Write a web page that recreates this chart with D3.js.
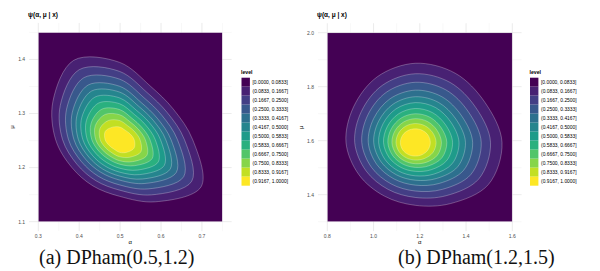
<!DOCTYPE html>
<html>
<head>
<meta charset="utf-8">
<script src="https://cdn.jsdelivr.net/npm/d3@7"></script>
<style>
  body { margin: 0; background: #fff; }
  svg { display: block; }
  text { font-family: "Liberation Sans", Arial, sans-serif; }
  text.caption { font-family: "Liberation Serif", "Times New Roman", serif; }
</style>
</head>
<body>
<script>
'use strict';

// legend bins of the normalised density
const levelLabels = [
    "[0.0000, 0.0833]", "(0.0833, 0.1667]", "(0.1667, 0.2500]", "(0.2500, 0.3333]",
    "(0.3333, 0.4167]", "(0.4167, 0.5000]", "(0.5000, 0.5833]", "(0.5833, 0.6667]",
    "(0.6667, 0.7500]", "(0.7500, 0.8333]", "(0.8333, 0.9167]", "(0.9167, 1.0000]"
]

const xDomainA = [0.3, 0.75]
const yDomainA = [1.1, 1.45]
const xTicksA = [0.3, 0.4, 0.5, 0.6, 0.7]
const xMinorA = [0.35, 0.45, 0.55, 0.65, 0.75]
const yTicksA = [1.1, 1.2, 1.3, 1.4]
const yMinorA = [1.15, 1.25, 1.35, 1.45]

const xDomainB = [0.8, 1.6]
const yDomainB = [1.3, 2.0]
const xTicksB = [0.8, 1.0, 1.2, 1.4, 1.6]
const xMinorB = [0.9, 1.1, 1.3, 1.5]
const yTicksB = [1.4, 1.6, 1.8, 2.0]
const yMinorB = [1.3, 1.5, 1.7, 1.9]

const captions = ["(a) DPham(0.5,1.2)", "(b) DPham(1.2,1.5)"]

// contour boundaries (alpha, mu), outermost level first
const ringsA = [
    [[0.6774,1.2516],[0.6295,1.3086],[0.5743,1.3504],[0.4989,1.3945],[0.3868,1.3985],[0.3358,1.3227],[0.3424,1.2516],[0.3817,1.2005],[0.4337,1.1662],[0.4989,1.1469],[0.5865,1.1368],[0.6980,1.1647]],
    [[0.6573,1.2516],[0.6148,1.3021],[0.5656,1.3390],[0.4989,1.3778],[0.4000,1.3811],[0.3537,1.3150],[0.3594,1.2516],[0.3946,1.2061],[0.4410,1.1757],[0.4989,1.1583],[0.5767,1.1496],[0.6750,1.1748]],
    [[0.6402,1.2516],[0.6021,1.2966],[0.5582,1.3293],[0.4989,1.3635],[0.4114,1.3663],[0.3691,1.3082],[0.3739,1.2516],[0.4056,1.2109],[0.4471,1.1838],[0.4989,1.1680],[0.5683,1.1606],[0.6554,1.1833]],
    [[0.6245,1.2516],[0.5905,1.2915],[0.5514,1.3204],[0.4989,1.3503],[0.4218,1.3527],[0.3831,1.3021],[0.3872,1.2516],[0.4157,1.2153],[0.4529,1.1913],[0.4989,1.1769],[0.5606,1.1707],[0.6374,1.1912]],
    [[0.6116,1.2516],[0.5810,1.2874],[0.5458,1.3131],[0.4989,1.3396],[0.4302,1.3416],[0.3946,1.2971],[0.3981,1.2516],[0.4241,1.2190],[0.4575,1.1973],[0.4989,1.1843],[0.5544,1.1789],[0.6227,1.1976]],
    [[0.5987,1.2516],[0.5715,1.2833],[0.5402,1.3057],[0.4989,1.3288],[0.4387,1.3305],[0.4061,1.2921],[0.4090,1.2516],[0.4323,1.2226],[0.4621,1.2034],[0.4989,1.1916],[0.5481,1.1871],[0.6079,1.2040]],
    [[0.5859,1.2516],[0.5620,1.2791],[0.5346,1.2984],[0.4989,1.3180],[0.4472,1.3193],[0.4176,1.2871],[0.4198,1.2516],[0.4407,1.2262],[0.4668,1.2096],[0.4989,1.1989],[0.5418,1.1954],[0.5932,1.2105]],
    [[0.5730,1.2516],[0.5525,1.2750],[0.5291,1.2911],[0.4989,1.3073],[0.4557,1.3082],[0.4291,1.2821],[0.4308,1.2516],[0.4489,1.2298],[0.4715,1.2157],[0.4989,1.2063],[0.5355,1.2036],[0.5784,1.2169]],
    [[0.5615,1.2516],[0.5441,1.2713],[0.5241,1.2847],[0.4989,1.2977],[0.4632,1.2983],[0.4393,1.2776],[0.4405,1.2516],[0.4563,1.2330],[0.4756,1.2211],[0.4989,1.2127],[0.5299,1.2110],[0.5653,1.2226]],
    [[0.5487,1.2516],[0.5346,1.2672],[0.5185,1.2773],[0.4989,1.2870],[0.4717,1.2872],[0.4508,1.2726],[0.4513,1.2516],[0.4646,1.2366],[0.4803,1.2272],[0.4989,1.2201],[0.5236,1.2192],[0.5506,1.2291]],
    [[0.5344,1.2516],[0.5240,1.2626],[0.5123,1.2692],[0.4989,1.2750],[0.4812,1.2748],[0.4636,1.2670],[0.4634,1.2516],[0.4738,1.2406],[0.4855,1.2340],[0.4989,1.2282],[0.5166,1.2284],[0.5342,1.2362]]
]

const ringsB = [
    [[1.5555,1.5935],[1.4815,1.7420],[1.3537,1.8496],[1.1807,1.8868],[1.0164,1.8368],[0.9136,1.7253],[0.8809,1.5935],[0.9373,1.4734],[1.0466,1.3950],[1.1807,1.3606],[1.3335,1.3673],[1.4965,1.4376]],
    [[1.5059,1.5935],[1.4422,1.7226],[1.3308,1.8158],[1.1807,1.8480],[1.0379,1.8050],[0.9475,1.7086],[0.9185,1.5935],[0.9675,1.4883],[1.0632,1.4195],[1.1807,1.3898],[1.3139,1.3963],[1.4548,1.4582]],
    [[1.4657,1.5935],[1.4103,1.7068],[1.3123,1.7884],[1.1807,1.8164],[1.0552,1.7793],[0.9751,1.6950],[0.9491,1.5935],[0.9920,1.5003],[1.0768,1.4396],[1.1807,1.4135],[1.2980,1.4199],[1.4209,1.4750]],
    [[1.4285,1.5935],[1.3807,1.6922],[1.2951,1.7630],[1.1807,1.7872],[1.0714,1.7554],[1.0006,1.6824],[0.9772,1.5935],[1.0145,1.5115],[1.0892,1.4580],[1.1807,1.4354],[1.2833,1.4416],[1.3895,1.4904]],
    [[1.3975,1.5935],[1.3561,1.6801],[1.2809,1.7418],[1.1807,1.7629],[1.0848,1.7355],[1.0218,1.6719],[1.0007,1.5935],[1.0334,1.5208],[1.0995,1.4733],[1.1807,1.4536],[1.2710,1.4598],[1.3635,1.5033]],
    [[1.3695,1.5935],[1.3340,1.6692],[1.2680,1.7228],[1.1807,1.7411],[1.0968,1.7177],[1.0409,1.6625],[1.0219,1.5935],[1.0504,1.5292],[1.1089,1.4872],[1.1807,1.4700],[1.2600,1.4761],[1.3400,1.5149]],
    [[1.3417,1.5935],[1.3119,1.6583],[1.2552,1.7038],[1.1807,1.7193],[1.1088,1.6999],[1.0600,1.6531],[1.0430,1.5935],[1.0674,1.5376],[1.1183,1.5011],[1.1807,1.4864],[1.2490,1.4924],[1.3165,1.5265]],
    [[1.3169,1.5935],[1.2922,1.6485],[1.2438,1.6869],[1.1807,1.6998],[1.1196,1.6840],[1.0770,1.6447],[1.0618,1.5935],[1.0825,1.5450],[1.1266,1.5134],[1.1807,1.5011],[1.2391,1.5070],[1.2957,1.5368]],
    [[1.2936,1.5935],[1.2737,1.6394],[1.2331,1.6711],[1.1807,1.6816],[1.1297,1.6691],[1.0928,1.6369],[1.0794,1.5935],[1.0966,1.5520],[1.1344,1.5249],[1.1807,1.5148],[1.2300,1.5205],[1.2761,1.5464]],
    [[1.2704,1.5935],[1.2553,1.6303],[1.2224,1.6552],[1.1807,1.6635],[1.1397,1.6542],[1.1088,1.6290],[1.0971,1.5935],[1.1107,1.5589],[1.1421,1.5364],[1.1807,1.5284],[1.2208,1.5342],[1.2565,1.5561]],
    [[1.2456,1.5935],[1.2356,1.6206],[1.2110,1.6383],[1.1807,1.6440],[1.1504,1.6383],[1.1258,1.6206],[1.1158,1.5935],[1.1258,1.5664],[1.1504,1.5487],[1.1807,1.5430],[1.2110,1.5487],[1.2356,1.5664]]
]

;(function() {

    let svg = ""
    const colors = d3.quantize(d3.interpolateViridis, 12)

    const panels = [
        { id: "a", rings: ringsA, xd: xDomainA, yd: yDomainA, xt: xTicksA, xm: xMinorA, yt: yTicksA, ym: yMinorA,
          xr: [38.3, 222.4], yr: [221.7, 32.4], legendX: 241.5, capX: 39, caption: captions[0] },
        { id: "b", rings: ringsB, xd: xDomainB, yd: yDomainB, xt: xTicksB, xm: xMinorB, yt: yTicksB, ym: yMinorB,
          xr: [327.3, 512.3], yr: [221.7, 32.7], legendX: 530, capX: 398, caption: captions[1] }
    ]

    window.onload = function() {
        svg = d3.select("body").append("svg")
            .attr("width", 600)
            .attr("height", 271)

        panels.forEach(drawPanel)
    }

    function drawPanel(p) {
        let x = d3.scaleLinear().domain(p.xd).range(p.xr)
        let y = d3.scaleLinear().domain(p.yd).range(p.yr)

        // ggplot style 5% expansion of the panel
        let ex = (p.xd[1] - p.xd[0]) * 0.05
        let ey = (p.yd[1] - p.yd[0]) * 0.05
        let left = x(p.xd[0] - ex), right = x(p.xd[1] + ex)
        let top = y(p.yd[1] + ey), bottom = y(p.yd[0] - ey)

        let g = svg.append("g")

        // grid
        g.selectAll(".vminor").data(p.xm).enter().append("line")
            .attr("x1", d => x(d)).attr("x2", d => x(d))
            .attr("y1", top).attr("y2", bottom)
            .attr("stroke", "#f0f0f0").attr("stroke-width", 0.5)
        g.selectAll(".hminor").data(p.ym).enter().append("line")
            .attr("y1", d => y(d)).attr("y2", d => y(d))
            .attr("x1", left).attr("x2", right)
            .attr("stroke", "#f0f0f0").attr("stroke-width", 0.5)
        g.selectAll(".vmajor").data(p.xt).enter().append("line")
            .attr("x1", d => x(d)).attr("x2", d => x(d))
            .attr("y1", top).attr("y2", bottom)
            .attr("stroke", "#e6e6e6").attr("stroke-width", 0.8)
        g.selectAll(".hmajor").data(p.yt).enter().append("line")
            .attr("y1", d => y(d)).attr("y2", d => y(d))
            .attr("x1", left).attr("x2", right)
            .attr("stroke", "#e6e6e6").attr("stroke-width", 0.8)

        // filled contours
        svg.append("clipPath").attr("id", "clip-" + p.id)
            .append("rect")
            .attr("x", x(p.xd[0])).attr("y", y(p.yd[1]))
            .attr("width", x(p.xd[1]) - x(p.xd[0]))
            .attr("height", y(p.yd[0]) - y(p.yd[1]))

        let area = g.append("g").attr("clip-path", "url(#clip-" + p.id + ")")
        area.append("rect")
            .attr("x", x(p.xd[0])).attr("y", y(p.yd[1]))
            .attr("width", x(p.xd[1]) - x(p.xd[0]))
            .attr("height", y(p.yd[0]) - y(p.yd[1]))
            .attr("fill", colors[0])
            .attr("stroke", "#ffffff").attr("stroke-opacity", 0.35).attr("stroke-width", 0.8)

        let line = d3.line()
            .x(d => x(d[0]))
            .y(d => y(d[1]))
            .curve(d3.curveCatmullRomClosed.alpha(0.5))

        area.selectAll("path.band").data(p.rings).enter().append("path")
            .attr("d", line)
            .attr("fill", (d, i) => colors[i + 1])
            .attr("stroke", "#ffffff")
            .attr("stroke-opacity", 0.45)
            .attr("stroke-width", 0.6)

        // axes text
        g.selectAll(".xlab").data(p.xt).enter().append("text")
            .attr("x", d => x(d)).attr("y", 238.3)
            .attr("text-anchor", "middle")
            .attr("font-size", 5).attr("fill", "#4d4d4d")
            .text(d => d3.format(".1f")(d))
        g.selectAll(".ylab").data(p.yt).enter().append("text")
            .attr("x", left - 4).attr("y", d => y(d) + 1.8)
            .attr("text-anchor", "end")
            .attr("font-size", 5).attr("fill", "#4d4d4d")
            .text(d => d3.format(".1f")(d))

        g.append("text")
            .attr("x", (left + right) / 2).attr("y", 243.5)
            .attr("text-anchor", "middle")
            .attr("font-size", 6).attr("fill", "#000")
            .text("α")
        g.append("text")
            .attr("transform", "translate(" + (left - 15.5) + "," + ((top + bottom) / 2) + ") rotate(-90)")
            .attr("text-anchor", "middle")
            .attr("font-size", 6).attr("fill", "#000")
            .text("μ")

        g.append("text")
            .attr("x", left - 1).attr("y", 17)
            .attr("font-size", 6.5).attr("font-weight", "bold").attr("fill", "#000")
            .text("ψ(α, μ | x)")

        // legend
        let lg = g.append("g").attr("transform", "translate(" + p.legendX + ",0)")
        lg.append("text")
            .attr("x", -0.5).attr("y", 74)
            .attr("font-size", 5.2).attr("font-weight", "bold").attr("fill", "#000")
            .text("level")
        lg.selectAll("rect").data(levelLabels).enter().append("rect")
            .attr("x", 0).attr("y", (d, i) => 77.7 + i * 9)
            .attr("width", 8.4).attr("height", 9)
            .attr("fill", (d, i) => colors[i])
        lg.selectAll(".key").data(levelLabels).enter().append("text")
            .attr("x", 11).attr("y", (d, i) => 77.7 + i * 9 + 6.2)
            .attr("font-size", 4.9).attr("fill", "#000")
            .text(d => d)

        // caption
        svg.append("text")
            .attr("class", "caption")
            .attr("x", p.capX).attr("y", 263.5)
            .attr("font-size", 20).attr("fill", "#111")
            .text(p.caption)
    }
})()
</script>
</body>
</html>
